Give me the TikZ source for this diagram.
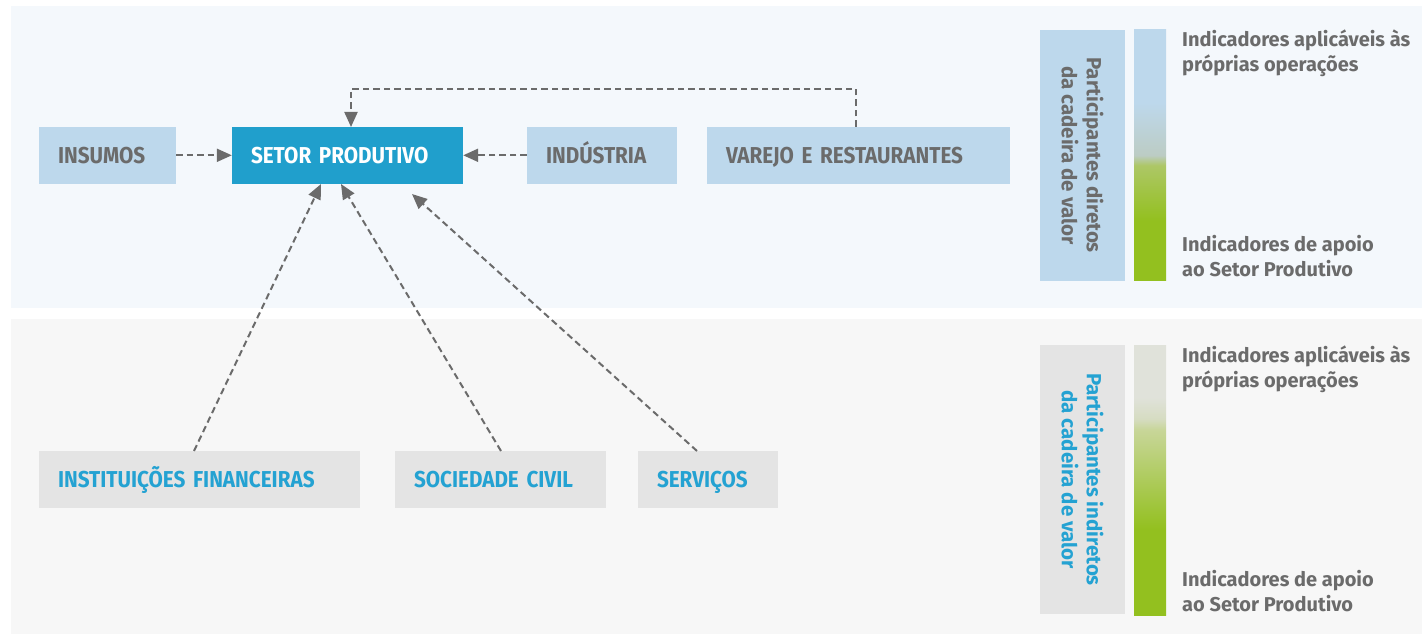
\documentclass[tikz,border=0pt]{standalone}
\usepackage{fontspec}
\setmainfont{Fira Sans}
\newfontfamily\lblfont{Fira Sans}[FakeStretch=0.9]
\usetikzlibrary{arrows.meta}
\definecolor{topband}{HTML}{F4F8FC}
\definecolor{botband}{HTML}{F7F7F7}
\definecolor{lblue}{HTML}{BDD8EC}
\definecolor{setorblue}{HTML}{209FCC}
\definecolor{greybox}{HTML}{E4E4E4}
\definecolor{bluetext}{HTML}{24A2D2}
\definecolor{greytext}{HTML}{6B6B6B}
\definecolor{grn}{HTML}{93C01F}
\definecolor{lgrn}{HTML}{ADC766}
\definecolor{gbl}{HTML}{BCCCC4}
\definecolor{ggrey}{HTML}{E0E2DA}
\definecolor{glg}{HTML}{C8D699}
\definecolor{glg2}{HTML}{D6DCC2}
\pgfdeclareverticalshading{barA}{100bp}{color(0bp)=(grn); color(37bp)=(grn); color(48bp)=(lgrn); color(50bp)=(gbl); color(60.5bp)=(lblue); color(100bp)=(lblue)}
\pgfdeclareverticalshading{barB}{100bp}{color(0bp)=(grn); color(41bp)=(grn); color(59.5bp)=(glg); color(61.5bp)=(glg2); color(65.5bp)=(ggrey); color(100bp)=(ggrey)}
\tikzset{
  lbl/.style={font=\lblfont\bfseries\fontsize{23}{26}\selectfont, inner xsep=19pt, inner ysep=0pt, text height=16pt, text depth=0pt, minimum height=56.5pt, align=left, anchor=center},
  dirbox/.style={lbl, fill=lblue, text=greytext},
  indbox/.style={lbl, fill=greybox, text=bluetext},
  conn/.style={draw=greytext, line width=2pt, dash pattern=on 6.5pt off 4pt, -{Triangle[length=15pt,width=13pt]}},
  legtxt/.style={font=\bfseries\fontsize{20}{25}\selectfont, text=greytext, align=left, anchor=base west, inner sep=0pt},
  legbox/.style={rotate=-90, minimum height=85pt, inner sep=0pt, align=center, font=\bfseries\fontsize{20.5}{25}\selectfont}
}
\begin{document}
\begin{tikzpicture}[x=1pt,y=-1pt]
\useasboundingbox (0,0) rectangle (1422,636);
\fill[white] (0,0) rectangle (1422,636);
\fill[topband] (11,6) rectangle (1422,308);
\fill[botband] (11,319) rectangle (1422,634);
% direct participants
\node[dirbox, text width=99pt] (insumos) at (107.5,155.3) {INSUMOS};
\node[lbl, fill=setorblue, text=white, text width=193pt] (setor) at (347.5,155.3) {SETOR PRODUTIVO};
\node[dirbox, text width=112pt] (industria) at (602,155.3) {INDÚSTRIA};
\node[dirbox, text width=265pt] (varejo) at (858.5,155.3) {VAREJO E RESTAURANTES};
% indirect participants
\node[indbox, text width=283pt] (inst) at (199.5,479.5) {INSTITUIÇÕES FINANCEIRAS};
\node[indbox, text width=173pt] (soc) at (500.5,479.5) {SOCIEDADE CIVIL};
\node[indbox, text width=102pt] (serv) at (708,479.5) {SERVIÇOS};
% connectors
\draw[conn] (insumos.east) -- (setor.west);
\draw[conn] (industria.west) -- (setor.east);
\coordinate (vtop) at (856,127);
\coordinate (stop) at (351,127);
\draw[conn] (vtop) -- (856,89) -- (351,89) -- (stop);
\coordinate (i1) at (194,451);
\coordinate (i1e) at (321,184);
\coordinate (i2) at (501,451);
\coordinate (i2e) at (341,184);
\coordinate (i3) at (697,451);
\coordinate (i3e) at (412,194);
\draw[conn] (i1) -- (i1e);
\draw[conn] (i2) -- (i2e);
\draw[conn] (i3) -- (i3e);
% legend top
\node[legbox, fill=lblue, text=greytext, minimum width=250.7pt] (legA) at (1082.5,155.3) {Participantes diretos\\da cadeira de valor};
\shade[shading=barA] (1134,30) rectangle (1166,280.7);
\node[legtxt] (tA1) at (1182,72) {Indicadores aplicáveis às\\próprias operações};
\node[legtxt] (tA2) at (1182,277) {Indicadores de apoio\\ao Setor Produtivo};
% legend bottom
\node[legbox, fill=greybox, text=bluetext, minimum width=269pt] (legB) at (1082.5,479.5) {Participantes indiretos\\da cadeira de valor};
\shade[shading=barB] (1134,346) rectangle (1166,615.7);
\node[legtxt] (tB1) at (1182,388) {Indicadores aplicáveis às\\próprias operações};
\node[legtxt] (tB2) at (1182,611) {Indicadores de apoio\\ao Setor Produtivo};
\end{tikzpicture}
\end{document}
